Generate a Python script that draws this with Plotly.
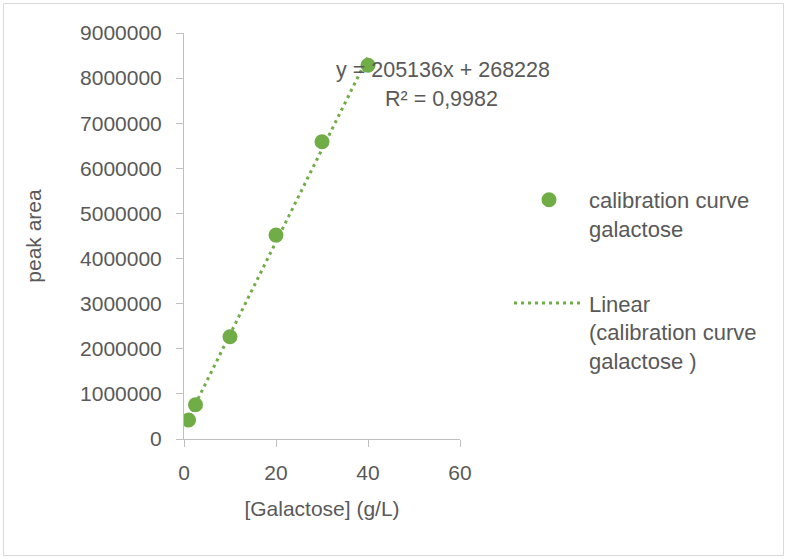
import plotly.graph_objects as go

conc = [1, 2.5, 10, 20, 30, 40]
peak_area = [420000, 760000, 2265000, 4520000, 6590000, 8285000]
slope = 205136
intercept = 268228
r2_text = "0,9982"
y_ticks = [0, 1000000, 2000000, 3000000, 4000000, 5000000, 6000000, 7000000, 8000000, 9000000]
x_ticks = [0, 20, 40, 60]

GREEN = "#70ad47"
TXT = "#595959"
FONT = "Liberation Sans, Arial, sans-serif"

trend_x = [min(conc), max(conc)]
trend_y = [slope * v + intercept for v in trend_x]

fig = go.Figure()
fig.add_trace(go.Scatter(x=conc, y=peak_area, mode="markers",
                         marker=dict(color=GREEN, size=15),
                         legendgroup="a",
                         name="calibration curve<br>galactose"))
fig.add_trace(go.Scatter(x=trend_x, y=trend_y, mode="lines",
                         line=dict(color=GREEN, width=3, dash="3px,4px"),
                         legendgroup="b",
                         name="Linear<br>(calibration curve<br>galactose )"))

W, H = 787, 559
ml, mr, mt, mb = 184, 327, 33, 120
pw, ph = W - ml - mr, H - mt - mb

def px(x):
    return (x - ml) / pw

def py(y):
    return 1 - (y - mt) / ph

fig.add_annotation(x=px(552), y=py(70), xref="paper", yref="paper",
                   xanchor="right", yanchor="middle", showarrow=False,
                   text=f"y = {slope}x + {intercept}", font=dict(family=FONT, size=21.5, color=TXT))
fig.add_annotation(x=px(500), y=py(99), xref="paper", yref="paper",
                   xanchor="right", yanchor="middle", showarrow=False,
                   text=f"R² = {r2_text}", font=dict(family=FONT, size=21.5, color=TXT))

fig.add_shape(type="rect", xref="paper", yref="paper",
              x0=px(3.5), x1=px(783.5), y0=py(3.5), y1=py(555.5),
              line=dict(color="#d9d9d9", width=1), fillcolor="rgba(0,0,0,0)", layer="below")

axis_common = dict(showgrid=False, zeroline=False, showline=True, linecolor="#bfbfbf", linewidth=1,
                   ticks="outside", ticklen=7, tickcolor="#bfbfbf",
                   tickfont=dict(family=FONT, size=21, color=TXT))

fig.update_layout(
    width=W, height=H,
    margin=dict(l=ml, r=mr, t=mt, b=mb),
    paper_bgcolor="white", plot_bgcolor="white",
    font=dict(family=FONT, color=TXT, size=20),
    xaxis=dict(range=[0, 60], tickvals=x_ticks, ticktext=[str(v) for v in x_ticks],
               ticklabelstandoff=8,
               title=dict(text="[Galactose] (g/L)", font=dict(family=FONT, size=21, color=TXT), standoff=18),
               **axis_common),
    yaxis=dict(range=[0, 9000000], tickvals=y_ticks, ticktext=[str(v) for v in y_ticks],
               ticklabelstandoff=10,
               title=dict(text="peak area", font=dict(family=FONT, size=21, color=TXT), standoff=32),
               **axis_common),
    legend=dict(x=px(509), y=py(179), xanchor="left", yanchor="top",
                font=dict(family=FONT, size=22, color=TXT), valign="top",
                itemwidth=70, tracegroupgap=43, bgcolor="rgba(0,0,0,0)"),
    showlegend=True,
)

fig.write_html("out.html")
